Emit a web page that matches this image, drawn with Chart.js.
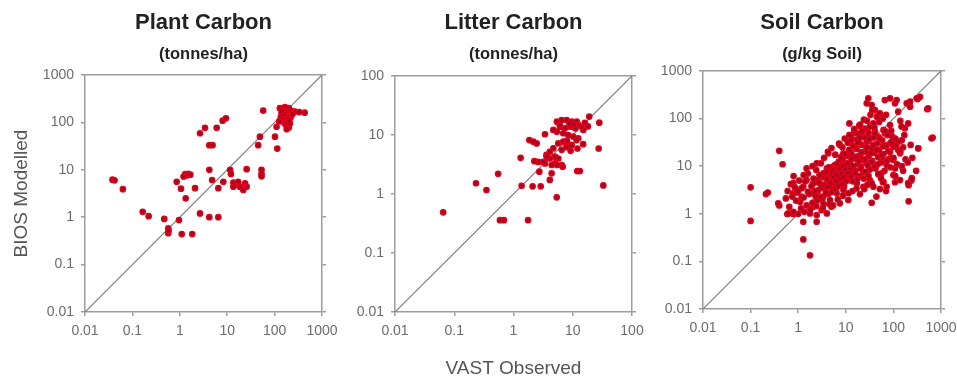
<!DOCTYPE html>
<html>
<head>
<meta charset="utf-8">
<script src="https://cdn.jsdelivr.net/npm/chart.js@4/dist/chart.umd.min.js"></script>
<style>
  html, body { margin: 0; padding: 0; background: #fff; overflow: hidden; }
  #wrap { position: relative; width: 957px; height: 378px; overflow: hidden; }
  canvas { position: absolute; top: 0; }
</style>
</head>
<body>
<div id="wrap">
  <canvas id="plant" width="346" height="378" style="left:0px"></canvas>
  <canvas id="litter" width="346" height="378" style="left:310px"></canvas>
  <canvas id="soil" width="350" height="378" style="left:618px"></canvas>
</div>
<script>
// tick labels (log decades)
const plantTicks = [0.01, 0.1, 1, 10, 100, 1000];
const litterTicks = [0.01, 0.1, 1, 10, 100];
const soilTicks = [0.01, 0.1, 1, 10, 100, 1000];

// [VAST observed, BIOS modelled]
const plantPoints = [
  [0.038, 6.2], [0.042, 6.0], [0.063, 3.9], [0.165, 1.3], [0.22, 1.05], [0.47, 0.92],
  [0.57, 0.58], [0.57, 0.46], [0.58, 0.52], [0.96, 0.87], [1.1, 0.44], [1.83, 0.44],
  [0.86, 5.6], [1.06, 4.0], [1.33, 2.5], [1.3, 8.1], [1.4, 7.6], [1.5, 8.2], [1.67, 7.9],
  [1.2, 7.2], [2.1, 4.1], [2.67, 1.2], [4.2, 1.0], [6.5, 1.0], [4.2, 10], [4.8, 6.1],
  [6.5, 4.1], [8.3, 5.6], [11.5, 10], [12, 8.2], [13.5, 5.4], [15.9, 4.8], [13.5, 4.4],
  [17, 5.6], [18.6, 4.4], [23.8, 5.2], [25.7, 4.4], [21.9, 3.75], [25.7, 10.3],
  [53, 10], [53, 8.2], [53, 7.3], [2.67, 59], [3.4, 77], [6.0, 77], [8.0, 109], [9.4, 122],
  [4.2, 33], [4.9, 33], [57.5, 178], [45, 33], [49, 50], [102, 50], [110, 81], [114, 28],
  [129, 200], [140, 160], [150, 190], [165, 210], [180, 180], [200, 200], [230, 175],
  [270, 170], [330, 165], [430, 160], [135, 130], [150, 115], [160, 100], [170, 90],
  [185, 85], [200, 78], [210, 95], [175, 140], [220, 130], [190, 120], [160, 150],
  [240, 150], [145, 175], [125, 105], [205, 110], [180, 72]
];

const litterPoints = [
  [0.065, 0.49], [0.233, 1.52], [0.35, 1.17], [0.55, 2.2], [0.59, 0.36], [0.69, 0.36],
  [1.76, 0.36], [1.32, 4.1], [1.37, 1.38], [2.1, 1.35], [2.88, 1.35], [5.36, 0.88],
  [1.85, 8.2], [2.16, 7.7], [2.46, 7.2], [3.4, 10.3], [2.73, 2.39], [2.62, 3.5], [3.4, 3.3],
  [4.1, 4.0], [5.0, 4.3], [5.7, 4.0], [3.6, 4.6], [4.1, 5.2], [4.7, 5.95], [5.7, 7.2],
  [6.9, 7.7], [7.9, 6.8], [6.5, 5.6], [5.0, 3.3], [6.5, 3.1], [4.4, 2.24], [4.1, 1.73],
  [5.4, 3.1], [5.4, 16.8], [6.5, 17.9], [7.9, 17.9], [9.6, 16.8], [11.7, 16.8], [6.1, 13.8],
  [7.4, 13], [9.0, 13.8], [11, 13], [12.4, 14.8], [5.4, 11.4], [6.9, 10.7], [8.4, 10],
  [10.2, 9.4], [12.4, 8.8], [4.7, 12.2], [28.1, 16.2], [19, 20.5], [32.8, 1.4], [27.4, 5.9],
  [11.9, 2.45], [13.2, 2.45], [15.1, 12.2], [14.1, 13.8], [15, 7.0], [12, 5.9], [11.6, 8.2],
  [9.6, 6.8], [7.9, 6.2], [6.76, 2.9], [4.4, 3.1], [3.63, 4.3], [3.19, 3.5], [2.25, 3.6],
  [8.8, 15.5], [10.5, 15.2], [6.0, 15.0], [18, 14], [16, 16], [8.0, 8.0], [9.2, 5.4]
];

const soilPoints = [
  [0.1, 3.6], [0.1, 0.71], [0.21, 2.6], [0.23, 2.8], [0.4, 21], [0.47, 11], [0.4, 1.5],
  [1.28, 0.29], [1.77, 0.134], [0.59, 0.99], [0.79, 0.99], [1.0, 1.0], [1.28, 0.68],
  [2.44, 0.68], [0.62, 1.02], [0.79, 1.1], [0.38, 1.66],
  [35, 1.7], [209, 1.83], [238, 5.0], [209, 4.0], [108, 4.6], [334, 23.7], [668, 40],
  [516, 158], [323, 257], [224, 227], [11.9, 79], [11.9, 45], [7.5, 28], [4.3, 18.6],
  [2.45, 11.5], [1.5, 9.0], [8.9, 18.6], [17, 49],
  [29.7, 267], [27.5, 209], [35, 193], [41, 151], [52, 129], [56, 101], [66, 245], [85, 267],
  [108, 209], [117, 245], [190, 209], [224, 178], [309, 267], [363, 288], [537, 164],
  [631, 38.6], [331, 23.8], [126, 140], [204, 79], [148, 68], [174, 63], [85, 73], [62, 58],
  [66, 49], [38, 79], [32, 68], [41, 53], [48, 41.6], [62, 28], [85, 30], [100, 25.7],
  [126, 21.9], [138, 18.6], [85, 14.7], [100, 13.5], [108, 9.0], [62, 13.5], [72, 10.6],
  [56, 7.1], [100, 6.5], [138, 5.1], [243, 5.6], [204, 4.4], [32, 5.1], [38, 3.7], [62, 4.7],
  [72, 3.7], [20, 6.0], [17, 4.4], [23.4, 3.7],
  [0.79, 4.4], [0.79, 2.7], [1.0, 3.2], [1.28, 3.7], [1.18, 2.3], [1.77, 2.7], [2.08, 4.4],
  [2.64, 5.1], [1.5, 5.1], [3.37, 7.1], [4.0, 9.0], [5.5, 9.8], [7.5, 11.5], [10.4, 9.8],
  [14.4, 8.3], [4.66, 5.1], [6.4, 4.4], [8.9, 6.0], [12.2, 5.1], [2.45, 1.95], [3.37, 2.3],
  [4.66, 1.95], [6.4, 2.7], [8.9, 3.2], [2.08, 1.41], [3.1, 1.2], [4.0, 1.02], [5.0, 1.41],
  [7.5, 1.66], [11.3, 1.95], [1.77, 1.02], [2.45, 0.94],
  [1.2, 3.5], [1.4, 4.8], [1.6, 2.9], [1.9, 3.8], [2.1, 5.5], [2.3, 2.4], [2.6, 3.1],
  [2.8, 6.5], [3.0, 4.2], [3.2, 2.0], [3.5, 5.8], [3.7, 3.3], [3.9, 7.5], [4.1, 4.9],
  [4.3, 2.6], [4.6, 6.2], [4.8, 8.8], [5.0, 3.9], [5.2, 5.3], [5.5, 7.0], [5.7, 4.4],
  [5.9, 10.5], [6.1, 6.0], [6.3, 3.4], [6.6, 8.1], [6.9, 5.1], [7.1, 12.5], [7.4, 6.8],
  [7.7, 4.6], [8.0, 9.2], [8.3, 5.7], [8.6, 14.0], [8.9, 7.3], [9.2, 3.8], [9.6, 10.8],
  [10, 6.5], [10.5, 16.5], [11, 8.4], [11.5, 5.2], [12, 12.0], [12.5, 7.6], [13, 19.0],
  [13.5, 9.5], [14, 4.8], [15, 14.5], [16, 8.0], [17, 23.0], [18, 11.0], [19, 6.2],
  [20, 17.0], [21, 9.8], [22, 28.0], [23, 13.5], [24, 5.5], [26, 20.0], [27, 11.8],
  [28, 33.0], [30, 16.0], [32, 8.5], [34, 24.0], [36, 13.0], [38, 40.0], [40, 19.0],
  [42, 9.0], [45, 30.0], [48, 15.5], [50, 22.0], [55, 12.0], [58, 35.0], [62, 18.0],
  [65, 8.0], [70, 27.0], [75, 45.0], [80, 14.0], [85, 20.0], [90, 32.0],
  [1.1, 1.8], [1.3, 2.2], [1.5, 1.5], [1.7, 2.6], [2.0, 1.7], [2.2, 3.0], [2.5, 1.9],
  [2.7, 4.5], [2.9, 2.3], [3.1, 3.6], [3.4, 1.6], [3.6, 4.0], [3.8, 2.8], [4.0, 5.4],
  [4.2, 3.7], [4.4, 9.5], [4.7, 4.5], [4.9, 6.8], [5.1, 2.9], [5.3, 8.0], [5.6, 5.9],
  [5.8, 3.3], [6.0, 7.2], [6.2, 4.8], [6.4, 11.0], [6.7, 6.4], [7.0, 3.9], [7.3, 8.8],
  [7.6, 5.5], [7.9, 15.5], [8.2, 6.9], [8.5, 4.2], [8.8, 9.8], [9.1, 6.0], [9.4, 18.0],
  [9.8, 8.5], [10.2, 4.9], [10.8, 11.5], [11.2, 7.1], [11.8, 22.0], [12.3, 9.0],
  [12.8, 6.1], [13.3, 14.5], [14.2, 10.2], [14.8, 26.0], [15.5, 7.0], [16.5, 16.0],
  [17.5, 5.4], [18.5, 12.8], [19.5, 30.0], [20.5, 9.0], [21.5, 19.5], [23.5, 7.4],
  [25, 14.0], [27.5, 25.0], [29, 10.5], [31, 37.0], [33, 18.5], [35, 12.5], [37, 28.0],
  [41, 50.0], [44, 22.0], [47, 11.0], [52, 38.0], [56, 17.0], [60, 26.0], [66, 55.0],
  [72, 13.0], [78, 21.0],
  [0.6, 3.0], [0.7, 4.2], [0.75, 2.3], [0.85, 3.6], [0.9, 1.9], [0.95, 2.8], [1.05, 5.0],
  [0.8, 6.2], [0.65, 1.4], [0.55, 2.1], [1.15, 1.3], [1.35, 1.1], [1.8, 1.25], [2.4, 1.45],
  [3.3, 1.3], [4.5, 1.6], [5.4, 1.5], [6.8, 2.0], [8.7, 2.4], [11.4, 2.7], [13.8, 3.0],
  [16.8, 3.4], [19.8, 2.6], [24.5, 3.3], [28.5, 4.1], [44, 2.3], [52, 3.3], [60, 4.6],
  [70, 3.0], [48, 6.8], [55, 5.6], [35, 4.4], [30, 6.3], [26, 7.7], [40, 9.8], [100, 15],
  [115, 28], [95, 42], [120, 11], [140, 20], [160, 8], [150, 35], [180, 14], [110, 6.2],
  [85, 9.5],
  [3.0, 11.5], [2.4, 8.3], [2.0, 10.0], [1.6, 7.0], [1.3, 6.5], [1.0, 3.0], [3.5, 15.0],
  [4.2, 20.0], [5.0, 24.0], [6.0, 17.5], [7.2, 30.0], [8.5, 25.0], [9.5, 38.0], [11, 31.0],
  [13, 44.0], [15, 55.0], [17, 36.0], [19, 70.0], [22, 48.0], [25, 62.0], [24, 95.0],
  [20, 40.0], [14, 26.5], [12, 45.0],
  [15, 60], [20, 75], [28, 90], [33, 120], [45, 110], [25, 40], [40, 65], [50, 85], [18, 32],
  [30, 50], [60, 100], [13, 35], [22, 55], [36, 150], [70, 120],
  [150, 10], [200, 12], [250, 15], [130, 33], [170, 45], [300, 8], [90, 55], [110, 38],
  [160, 25], [230, 28], [140, 90]
];

const fontFamily = "'Liberation Sans', Arial, Helvetica, sans-serif";
const frameGrey = '#9c9c9c';

function logAxis(ticks, position, extra) {
  return Object.assign({
    type: 'logarithmic',
    position: position,
    min: ticks[0],
    max: ticks[ticks.length - 1],
    afterBuildTicks: scale => { scale.ticks = ticks.map(v => ({ value: v })); },
    ticks: {
      color: '#6c6c6c',
      font: { family: fontFamily, size: 14 },
      padding: 7,
      autoSkip: false,
      maxRotation: 0,
      callback: v => String(v)
    },
    grid: { drawOnChartArea: false, drawTicks: true, tickLength: 4, color: frameGrey, lineWidth: 1.5 },
    border: { display: true, color: frameGrey, width: 1.5 }
  }, extra);
}

function makePanel(id, cfg) {
  const ticks = cfg.ticks;
  const lo = ticks[0], hi = ticks[ticks.length - 1];

  const xAxis = logAxis(ticks, 'bottom', {
    afterFit: s => { s.height = cfg.bottom; },
    title: cfg.xTitle ? {
      display: true, text: cfg.xTitle, color: '#555',
      font: { family: fontFamily, size: 19, lineHeight: 1 }, padding: { top: 0, bottom: 0 }
    } : { display: false }
  });
  const yAxis = logAxis(ticks, 'left', {
    afterFit: s => { s.width = 85; },
    title: cfg.yTitle ? {
      display: true, text: cfg.yTitle, color: '#555',
      font: { family: fontFamily, size: 19 }, padding: { top: 10, bottom: 0 }
    } : { display: false }
  });
  const xTop = logAxis(ticks, 'top', {
    afterFit: s => { s.height = 0; },
    ticks: { display: false },
    grid: { drawOnChartArea: false, drawTicks: false, tickLength: 0 }
  });
  const yRight = logAxis(ticks, 'right', {
    afterFit: s => { s.width = 6; },
    ticks: { display: false }
  });

  new Chart(document.getElementById(id), {
    type: 'scatter',
    data: {
      datasets: [
        {
          data: cfg.points.map(p => ({ x: p[0], y: p[1] })),
          pointRadius: 2.7,
          pointBackgroundColor: '#a3081f',
          pointBorderColor: '#e3001b',
          pointBorderWidth: 1.3
        },
        {
          type: 'line',
          data: [{ x: lo, y: lo }, { x: hi, y: hi }],
          borderColor: '#7c7c7c',
          borderWidth: 1.2,
          pointRadius: 0
        }
      ]
    },
    options: {
      responsive: false,
      animation: false,
      events: [],
      layout: { padding: { left: 0, right: cfg.right, top: 0, bottom: 0 } },
      scales: { x: xAxis, y: yAxis, xTop: xTop, yRight: yRight },
      plugins: {
        legend: { display: false },
        tooltip: { enabled: false },
        title: {
          display: true, text: cfg.title, fullSize: false, color: '#222',
          font: { family: fontFamily, size: 22, weight: 'bold' },
          padding: { top: 10, bottom: 4 }
        },
        subtitle: {
          display: true, text: cfg.unit, fullSize: false, color: '#222',
          font: { family: fontFamily, size: 16.5, weight: 'bold' },
          padding: { top: 3.7, bottom: cfg.gap }
        }
      }
    }
  });
}

makePanel('plant', {
  ticks: plantTicks, points: plantPoints, title: 'Plant Carbon', unit: '(tonnes/ha)',
  yTitle: 'BIOS Modelled', bottom: 66, right: 18, gap: 11.1
});
makePanel('litter', {
  ticks: litterTicks, points: litterPoints, title: 'Litter Carbon', unit: '(tonnes/ha)',
  xTitle: 'VAST Observed', bottom: 66, right: 18, gap: 12.1
});
makePanel('soil', {
  ticks: soilTicks, points: soilPoints, title: 'Soil Carbon', unit: '(g/kg Soil)',
  bottom: 69, right: 21, gap: 7.1
});
</script>
</body>
</html>
